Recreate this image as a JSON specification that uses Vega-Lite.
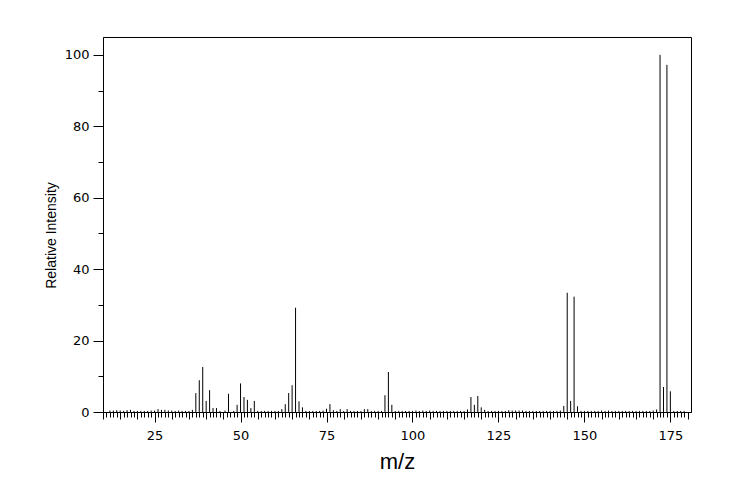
{
  "$schema": "https://vega.github.io/schema/vega-lite/v6.json",
  "autosize": "none",
  "width": 588,
  "height": 375,
  "padding": {"left": 103, "top": 37, "right": 53, "bottom": 88},
  "background": "white",
  "config": {
    "view": {"stroke": "black", "strokeWidth": 1},
    "axis": {
      "grid": false,
      "domainColor": "black",
      "tickColor": "black",
      "labelColor": "black",
      "titleColor": "black",
      "labelFont": "DejaVu Sans",
      "titleFont": "Liberation Sans",
      "labelFontSize": 13,
      "titleFontWeight": "normal",
      "labelOverlap": false,
      "labelFlush": false,
      "labelBound": false,
      "tickCount": 500,
      "format": "d"
    }
  },
  "datasets": {
    "peaks": [
      {"mz": 12, "intensity": 0.4}, {"mz": 13, "intensity": 0.4}, {"mz": 14, "intensity": 0.5}, {"mz": 15, "intensity": 0.4},
      {"mz": 16, "intensity": 0.3}, {"mz": 17, "intensity": 0.5}, {"mz": 18, "intensity": 0.6}, {"mz": 19, "intensity": 0.3},
      {"mz": 20, "intensity": 0.3}, {"mz": 21, "intensity": 0.3}, {"mz": 22, "intensity": 0.3}, {"mz": 23, "intensity": 0.3},
      {"mz": 24, "intensity": 0.4}, {"mz": 25, "intensity": 0.4}, {"mz": 26, "intensity": 0.8}, {"mz": 27, "intensity": 0.6},
      {"mz": 28, "intensity": 0.6}, {"mz": 29, "intensity": 0.4}, {"mz": 30, "intensity": 0.4}, {"mz": 31, "intensity": 0.3},
      {"mz": 32, "intensity": 0.4}, {"mz": 33, "intensity": 0.3}, {"mz": 34, "intensity": 0.3}, {"mz": 35, "intensity": 0.3},
      {"mz": 36, "intensity": 0.6}, {"mz": 37, "intensity": 5.3}, {"mz": 38, "intensity": 8.9}, {"mz": 39, "intensity": 12.6},
      {"mz": 40, "intensity": 3.1}, {"mz": 41, "intensity": 6.1}, {"mz": 42, "intensity": 1.1}, {"mz": 43, "intensity": 1.1},
      {"mz": 44, "intensity": 0.3}, {"mz": 45.5, "intensity": 0.4}, {"mz": 46.5, "intensity": 5.1}, {"mz": 48, "intensity": 0.3},
      {"mz": 49, "intensity": 2.0}, {"mz": 50, "intensity": 8.0}, {"mz": 51, "intensity": 4.2}, {"mz": 52, "intensity": 3.4},
      {"mz": 53, "intensity": 1.1}, {"mz": 54, "intensity": 3.1}, {"mz": 55, "intensity": 0.3}, {"mz": 56, "intensity": 0.3},
      {"mz": 57, "intensity": 0.3}, {"mz": 58, "intensity": 0.3}, {"mz": 59, "intensity": 0.3}, {"mz": 60, "intensity": 0.3},
      {"mz": 61, "intensity": 0.3}, {"mz": 62, "intensity": 0.8}, {"mz": 63, "intensity": 2.2}, {"mz": 64, "intensity": 5.3},
      {"mz": 65, "intensity": 7.5}, {"mz": 66, "intensity": 29.2}, {"mz": 67, "intensity": 3.0}, {"mz": 68, "intensity": 1.3},
      {"mz": 69, "intensity": 0.3}, {"mz": 70, "intensity": 0.3}, {"mz": 71, "intensity": 0.3}, {"mz": 72, "intensity": 0.3},
      {"mz": 73, "intensity": 0.3}, {"mz": 74, "intensity": 0.4}, {"mz": 75, "intensity": 0.9}, {"mz": 76, "intensity": 2.2},
      {"mz": 77, "intensity": 0.5}, {"mz": 78, "intensity": 0.3}, {"mz": 79, "intensity": 0.8}, {"mz": 80, "intensity": 0.3},
      {"mz": 81, "intensity": 0.8}, {"mz": 82, "intensity": 0.3}, {"mz": 83, "intensity": 0.3}, {"mz": 84, "intensity": 0.3},
      {"mz": 85, "intensity": 0.3}, {"mz": 86, "intensity": 0.8}, {"mz": 87, "intensity": 0.8}, {"mz": 88, "intensity": 0.3},
      {"mz": 89, "intensity": 0.3}, {"mz": 90, "intensity": 0.3}, {"mz": 91, "intensity": 0.3}, {"mz": 92, "intensity": 4.7},
      {"mz": 93, "intensity": 11.2}, {"mz": 94, "intensity": 2.0}, {"mz": 95, "intensity": 0.3}, {"mz": 96, "intensity": 0.3},
      {"mz": 97, "intensity": 0.3}, {"mz": 98, "intensity": 0.3}, {"mz": 99, "intensity": 0.3}, {"mz": 100, "intensity": 0.3},
      {"mz": 101, "intensity": 0.4}, {"mz": 102, "intensity": 0.3}, {"mz": 103, "intensity": 0.4}, {"mz": 104, "intensity": 0.3},
      {"mz": 105, "intensity": 0.4}, {"mz": 106, "intensity": 0.3}, {"mz": 107, "intensity": 0.3}, {"mz": 108, "intensity": 0.3},
      {"mz": 109, "intensity": 0.3}, {"mz": 110, "intensity": 0.3}, {"mz": 111, "intensity": 0.3}, {"mz": 112, "intensity": 0.3},
      {"mz": 113, "intensity": 0.3}, {"mz": 114, "intensity": 0.3}, {"mz": 115, "intensity": 0.3}, {"mz": 116, "intensity": 0.7},
      {"mz": 117, "intensity": 4.2}, {"mz": 118, "intensity": 2.0}, {"mz": 119, "intensity": 4.5}, {"mz": 120, "intensity": 1.3},
      {"mz": 121, "intensity": 0.6}, {"mz": 122, "intensity": 0.3}, {"mz": 123, "intensity": 0.3}, {"mz": 124, "intensity": 0.3},
      {"mz": 125, "intensity": 0.3}, {"mz": 126, "intensity": 0.3}, {"mz": 127, "intensity": 0.3}, {"mz": 128, "intensity": 0.5},
      {"mz": 129, "intensity": 0.4}, {"mz": 130, "intensity": 0.4}, {"mz": 131, "intensity": 0.4}, {"mz": 132, "intensity": 0.4},
      {"mz": 133, "intensity": 0.3}, {"mz": 134, "intensity": 0.3}, {"mz": 135, "intensity": 0.3}, {"mz": 136, "intensity": 0.3},
      {"mz": 137, "intensity": 0.3}, {"mz": 138, "intensity": 0.3}, {"mz": 139, "intensity": 0.3}, {"mz": 140, "intensity": 0.3},
      {"mz": 141, "intensity": 0.3}, {"mz": 142, "intensity": 0.3}, {"mz": 143, "intensity": 0.4}, {"mz": 144, "intensity": 1.7},
      {"mz": 145, "intensity": 33.4}, {"mz": 146, "intensity": 3.1}, {"mz": 147, "intensity": 32.3}, {"mz": 148, "intensity": 1.6},
      {"mz": 149, "intensity": 0.3}, {"mz": 150, "intensity": 0.3}, {"mz": 151, "intensity": 0.3}, {"mz": 152, "intensity": 0.3},
      {"mz": 153, "intensity": 0.3}, {"mz": 154, "intensity": 0.3}, {"mz": 155, "intensity": 0.4}, {"mz": 156, "intensity": 0.3},
      {"mz": 157, "intensity": 0.4}, {"mz": 158, "intensity": 0.3}, {"mz": 159, "intensity": 0.3}, {"mz": 160, "intensity": 0.3},
      {"mz": 161, "intensity": 0.3}, {"mz": 162, "intensity": 0.3}, {"mz": 163, "intensity": 0.3}, {"mz": 164, "intensity": 0.3},
      {"mz": 165, "intensity": 0.3}, {"mz": 166, "intensity": 0.3}, {"mz": 167, "intensity": 0.3}, {"mz": 168, "intensity": 0.3},
      {"mz": 169, "intensity": 0.3}, {"mz": 170, "intensity": 0.4}, {"mz": 171, "intensity": 0.7}, {"mz": 172, "intensity": 100},
      {"mz": 173, "intensity": 7.0}, {"mz": 174, "intensity": 97.2}, {"mz": 175, "intensity": 5.8}, {"mz": 176, "intensity": 0.3},
      {"mz": 177, "intensity": 0.3}, {"mz": 178, "intensity": 0.3}, {"mz": 179, "intensity": 0.3}
    ]
  },
  "layer": [
    {
      "data": {"name": "peaks"},
      "mark": {"type": "rule", "color": "black", "strokeWidth": 1},
      "encoding": {
        "x": {
          "field": "mz",
          "type": "quantitative",
          "scale": {"domain": [10, 181], "nice": false, "zero": false},
          "axis": {
            "title": "m/z",
            "titleFontSize": 22,
            "titlePadding": 9,
            "tickCount": 500,
            "format": "d",
            "values": [10,11,12,13,14,15,16,17,18,19,20,21,22,23,24,25,26,27,28,29,30,31,32,33,34,35,36,37,38,39,40,41,42,43,44,45,46,47,48,49,50,51,52,53,54,55,56,57,58,59,60,61,62,63,64,65,66,67,68,69,70,71,72,73,74,75,76,77,78,79,80,81,82,83,84,85,86,87,88,89,90,91,92,93,94,95,96,97,98,99,100,101,102,103,104,105,106,107,108,109,110,111,112,113,114,115,116,117,118,119,120,121,122,123,124,125,126,127,128,129,130,131,132,133,134,135,136,137,138,139,140,141,142,143,144,145,146,147,148,149,150,151,152,153,154,155,156,157,158,159,160,161,162,163,164,165,166,167,168,169,170,171,172,173,174,175,176,177,178,179,180],
            "labelExpr": "datum.value % 25 === 0 ? datum.label : ''",
            "tickSize": {"condition": [{"test": "datum.value % 25 === 0", "value": 10}, {"test": "datum.value % 5 === 0", "value": 7}], "value": 5},
            "labelPadding": 7
          }
        },
        "y": {
          "field": "intensity",
          "type": "quantitative",
          "scale": {"domain": [0, 105], "nice": false},
          "axis": {
            "title": "Relative Intensity",
            "titleFontSize": 14,
            "titlePadding": 6,
            "titleY": 198,
            "tickCount": 500,
            "format": "d",
            "values": [0, 10, 20, 30, 40, 50, 60, 70, 80, 90, 100],
            "labelExpr": "datum.value % 20 === 0 ? datum.label : ''",
            "tickSize": {"condition": {"test": "datum.value % 20 === 0", "value": 10}, "value": 5},
            "labelPadding": 4
          }
        },
        "y2": {"datum": 0}
      }
    },
    {
      "mark": {"type": "text", "text": "MS2001-00830WA", "font": "DejaVu Sans Mono", "fontSize": 9, "align": "left", "baseline": "middle", "color": "black"},
      "encoding": {
        "x": {"datum": 16.7, "type": "quantitative"},
        "y": {"datum": 96.4, "type": "quantitative"}
      }
    }
  ]
}
